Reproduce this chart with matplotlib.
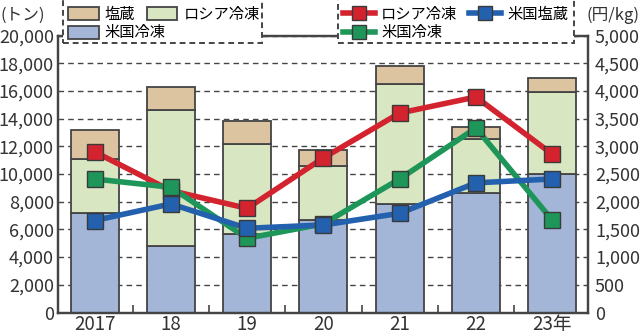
import matplotlib
matplotlib.use("Agg")
import matplotlib.pyplot as plt
from matplotlib.patches import Rectangle
import numpy as np

# data
years = ["2017", "18", "19", "20", "21", "22", "23年"]
us_frozen_t = [7200, 4800, 5700, 6700, 7800, 8600, 10000]      # 米国冷凍 (bars)
ru_frozen_t = [3900, 9800, 6500, 3900, 8700, 3900, 5900]       # ロシア冷凍 (bars)
salted_t = [2100, 1700, 1600, 1100, 1300, 900, 1000]           # 塩蔵 (bars)

price_ru_frozen = [2900, 2200, 1880, 2790, 3600, 3890, 2860]   # 円/kg
price_us_salted = [1660, 1960, 1520, 1580, 1790, 2340, 2410]
price_us_frozen = [2410, 2260, 1340, 1600, 2410, 3330, 1670]

C_TAN = "#dcc4a0"
C_LGREEN = "#d8e7c1"
C_LBLUE = "#a3b6d7"
C_RED = "#d2232f"
C_BLUE = "#2360ae"
C_GREEN = "#1e965a"
C_DARK = "#444444"
C_TEXT = "#333333"

W, H = 640, 335
plt.rcParams["font.family"] = ["Liberation Sans Narrow", "Noto Sans CJK JP", "DejaVu Sans"]
jp = ["Noto Sans CJK JP", "DejaVu Sans"]

fig = plt.figure(figsize=(W / 100, H / 100), dpi=100)
ax = fig.add_axes([58 / W, 1 - 312.5 / H, 530 / W, 277 / H])
x = np.arange(len(years))
w = 0.63

us = np.array(us_frozen_t)
ru = np.array(ru_frozen_t)
sa = np.array(salted_t)
kw = dict(width=w, edgecolor=C_DARK, linewidth=1.3, zorder=2)
b_us = ax.bar(x, us, color=C_LBLUE, **kw)
b_ru = ax.bar(x, ru, bottom=us, color=C_LGREEN, **kw)
b_sa = ax.bar(x, sa, bottom=us + ru, color=C_TAN, **kw)

ax.set_ylim(0, 20000)
ax.set_xlim(-0.48, 6.47)
ax.set_yticks(np.arange(0, 20001, 2000))
ax.set_yticklabels([f"{v:,}" for v in range(0, 20001, 2000)])
ax.yaxis.grid(True, linestyle=(0, (4, 3)), color=C_DARK, linewidth=1.0, zorder=1)
ax.set_axisbelow(True)
ax.set_xticks(x)
ax.set_xticklabels(years)
ax.set_xticks(np.arange(0.5, 6, 1), minor=True)
ax.tick_params(axis="x", which="major", length=0, labelsize=13.5, pad=1, colors=C_TEXT)
ax.tick_params(axis="x", which="minor", direction="in", length=6, width=1.2, color=C_DARK)
ax.tick_params(axis="y", length=0, labelsize=13, pad=3, colors=C_TEXT)
for s in ax.spines.values():
    s.set_linewidth(1.6)
    s.set_color(C_DARK)

ax2 = ax.twinx()
ax2.set_ylim(0, 5000)
ax2.set_yticks(np.arange(0, 5001, 500))
ax2.set_yticklabels([f"{v:,}" for v in range(0, 5001, 500)])
ax2.tick_params(axis="y", length=0, labelsize=13, pad=5, colors=C_TEXT)
for s in ax2.spines.values():
    s.set_linewidth(1.6)
    s.set_color(C_DARK)

lkw = dict(linewidth=4, marker="s", markersize=12, markeredgecolor="#3a3a3a", markeredgewidth=1)
l_ru = ax2.plot(x, price_ru_frozen, color=C_RED, zorder=3, **lkw)[0]
l_usf = ax2.plot(x, price_us_frozen, color=C_GREEN, zorder=4, **lkw)[0]
l_uss = ax2.plot(x, price_us_salted, color=C_BLUE, zorder=5, **lkw)[0]


def legend_box(x0, x1, y0, y1):
    r = Rectangle((x0 / W, 1 - y1 / H), (x1 - x0) / W, (y1 - y0) / H,
                  transform=fig.transFigure, facecolor="white", edgecolor=C_DARK,
                  linewidth=1.4, linestyle=(0, (3, 2)), zorder=3)
    fig.add_artist(r)


def legend_row(handles, labels, px, py, **extra):
    leg = fig.legend(handles, labels, ncol=len(handles), loc="center left",
                     bbox_to_anchor=(px / W, 1 - py / H), bbox_transform=fig.transFigure,
                     borderaxespad=0, borderpad=0, frameon=False,
                     prop={"family": jp, "size": 11}, columnspacing=0.75,
                     handletextpad=0.4, **extra)
    leg.set_zorder(6)
    return leg


legend_box(63, 262, -3, 43)
legend_row([b_sa, b_ru], ["塩蔵", "ロシア冷凍"], 68, 14, handlelength=2.0, handleheight=0.9)
legend_row([b_us], ["米国冷凍"], 68, 33, handlelength=2.0, handleheight=0.9)

legend_box(338, 574, -3, 43)
legend_row([l_ru, l_uss], ["ロシア冷凍", "米国塩蔵"], 343, 14, handlelength=2.1, markerscale=0.8)
legend_row([l_usf], ["米国冷凍"], 343, 33, handlelength=2.1, markerscale=0.8)

fig.text(1 / W, 1 - 15 / H, "(トン)", family=jp, fontsize=12, va="center", ha="left",
         color=C_TEXT)
fig.text(639 / W, 1 - 15 / H, "(円/kg)", family=jp, fontsize=12, va="center", ha="right",
         color=C_TEXT)

fig.savefig("out.png", dpi=100)
